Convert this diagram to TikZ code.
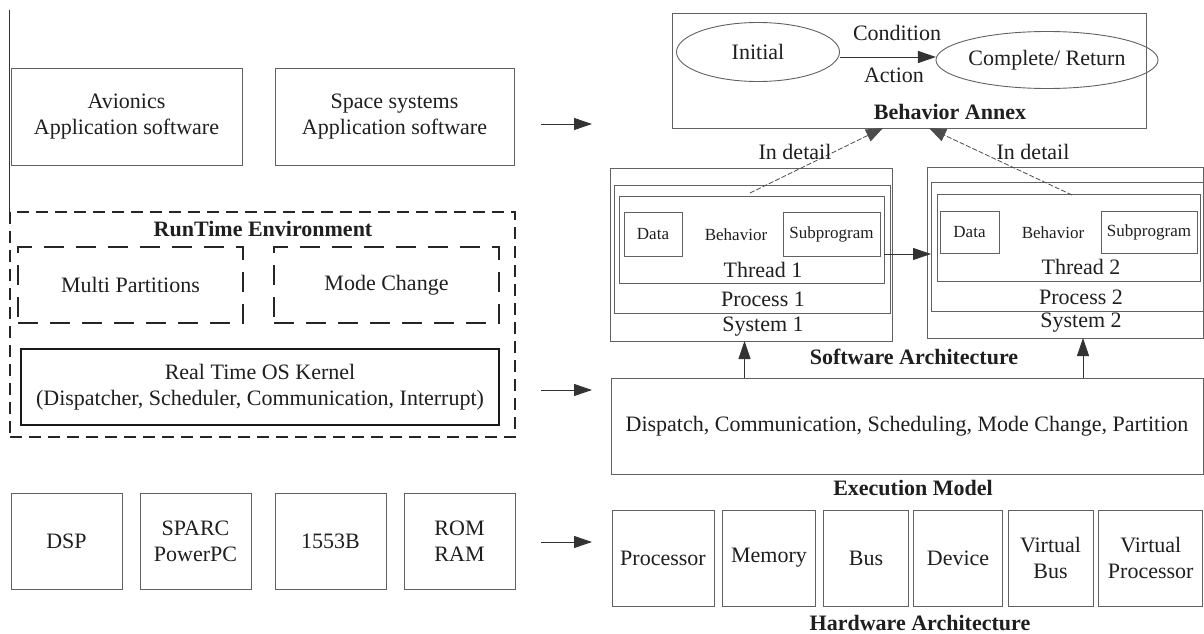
\documentclass[tikz,border=0pt]{standalone}
\usepackage{fontspec}
\setmainfont{Liberation Serif}
\usetikzlibrary{arrows.meta,shapes.geometric,calc}
\begin{document}
\begin{tikzpicture}[x=1pt,y=-1pt,
  every node/.style={inner sep=0pt, outer sep=0pt, align=center, text=black!88},
  box/.style={draw=black!62, line width=0.9pt, rectangle},
  bigtxt/.style={font=\fontsize{22}{26}\selectfont},
  smalltxt/.style={font=\fontsize{17}{20}\selectfont},
  ttl/.style={font=\fontsize{22}{26}\selectfont\bfseries},
  arr/.style={-{Triangle[length=18pt,width=12pt]}, line width=0.9pt, draw=black!80},
  darr/.style={-{Triangle[length=17pt,width=13pt]}, line width=0.8pt, draw=black!70, dash pattern=on 5pt off 2pt},
  ell/.style={ellipse, draw=black!62, line width=0.9pt}
]
\useasboundingbox (0,0) rectangle (1204,634);
\fill[white] (0,0) rectangle (1204,634);

% ---------------- left column ----------------
\coordinate (lt) at (9,10);
\coordinate (lb) at (9,212);
\draw[black!80, line width=0.9pt] (lt) -- (lb);

\node[box,bigtxt,minimum width=231pt,minimum height=97pt] (avi) at (126.5,116.5) {Avionics\\Application software};
\node[box,bigtxt,minimum width=239pt,minimum height=97pt] (spc) at (394.5,116.5) {Space systems\\Application software};

\node[draw=black!85, line width=2pt, dash pattern=on 12pt off 7pt, minimum width=505pt, minimum height=225pt] (rte) at (262.5,324.5) {};
\node[ttl] (rtet) at (263,229) {RunTime Environment};
\node[draw=black!85, line width=1.6pt, dash pattern=on 20pt off 12pt, bigtxt, minimum width=225pt, minimum height=76pt] (multi) at (130.5,285) {Multi Partitions};
\node[draw=black!85, line width=1.6pt, dash pattern=on 20pt off 12pt, bigtxt, minimum width=225pt, minimum height=76pt] (mode) at (386.5,285) {Mode Change};
\node[draw=black!90, line width=2pt, bigtxt, minimum width=478pt, minimum height=76pt] (rtos) at (260,387) {Real Time OS Kernel\\(Dispatcher, Scheduler, Communication, Interrupt)};

\node[box,bigtxt,minimum width=111pt,minimum height=96pt] (dsp) at (66.5,541) {DSP};
\node[box,bigtxt,minimum width=111pt,minimum height=96pt] (sparc) at (195.5,541) {SPARC\\PowerPC};
\node[box,bigtxt,minimum width=111pt,minimum height=96pt] (mil) at (330.5,541) {1553B};
\node[box,bigtxt,minimum width=111pt,minimum height=96pt] (rom) at (459.5,541) {ROM\\RAM};

\coordinate (a1s) at (541,124); \coordinate (a1e) at (592,124);
\coordinate (a2s) at (541,390); \coordinate (a2e) at (592,390);
\coordinate (a3s) at (541,542); \coordinate (a3e) at (592,542);
\draw[arr] (a1s) -- (a1e);
\draw[arr] (a2s) -- (a2e);
\draw[arr] (a3s) -- (a3e);

% ---------------- behavior annex ----------------
\node[box,minimum width=474pt,minimum height=115pt] (annex) at (909,70.5) {};
\node[ell,bigtxt,minimum width=163pt,minimum height=59pt] (init) at (758,52) {Initial};
\node[ell,bigtxt,minimum width=189pt,minimum height=57pt] (compl) at (1047,60) {Complete/ Return};
\coordinate (ay) at (0,57);
\draw[arr] (init.east |- ay) -- (compl.west |- ay);
\node[bigtxt] (cond) at (897,33) {Condition};
\node[bigtxt] (act) at (894,75) {Action};
\node[ttl] (annext) at (950,112) {Behavior Annex};

% ---------------- software architecture ----------------
\node[box,minimum width=282pt,minimum height=173pt] (sys1) at (751,254.5) {};
\node[box,minimum width=276pt,minimum height=128pt] (proc1) at (752,249) {};
\node[box,minimum width=265pt,minimum height=87pt] (thr1) at (751.5,239.5) {};
\node[box,smalltxt,minimum width=58pt,minimum height=44pt] (data1) at (653,234) {Data};
\node[smalltxt] (beh1) at (736,235) {Behavior};
\node[box,smalltxt,minimum width=97pt,minimum height=44pt] (sub1) at (831.5,234) {Subprogram};
\node[bigtxt] (thr1t) at (763,270) {Thread 1};
\node[bigtxt] (proc1t) at (763,299) {Process 1};
\node[bigtxt] (sys1t) at (763,327) {System 1};

\node[box,minimum width=276pt,minimum height=171pt] (sys2) at (1065,252.5) {};
\node[box,minimum width=272pt,minimum height=129pt] (proc2) at (1067,246.5) {};
\node[box,minimum width=263pt,minimum height=87pt] (thr2) at (1068.5,237.5) {};
\node[box,smalltxt,minimum width=59pt,minimum height=42pt] (data2) at (969.5,232) {Data};
\node[smalltxt] (beh2) at (1053,233) {Behavior};
\node[box,smalltxt,minimum width=96pt,minimum height=42pt] (sub2) at (1149,232) {Subprogram};
\node[bigtxt] (thr2t) at (1081,267) {Thread 2};
\node[bigtxt] (proc2t) at (1081,297) {Process 2};
\node[bigtxt] (sys2t) at (1081,323) {System 2};

\coordinate (ty) at (0,254);
\draw[arr] (thr1.east |- ty) -- (proc2.west |- ty);

\node[ttl] (swt) at (914,357) {Software Architecture};

% in detail
\coordinate (d1s) at (750,193);
\coordinate (d1e) at (883,128);
\coordinate (d2s) at (1072,195);
\coordinate (d2e) at (929,128);
\draw[darr] (d1s) -- (d1e);
\draw[darr] (d2s) -- (d2e);
\node[bigtxt] (det1) at (795,152) {In detail};
\node[bigtxt] (det2) at (1033,152) {In detail};

% ---------------- execution model ----------------
\node[box,bigtxt,minimum width=592pt,minimum height=96pt] (exec) at (907,426) {Dispatch, Communication, Scheduling, Mode Change, Partition};
\node[ttl] (exect) at (913,488) {Execution Model};

\coordinate (u1) at (744.5,0);
\coordinate (u2) at (1083,0);
\draw[arr] (exec.north -| u1) -- (sys1.south -| u1);
\draw[arr] (exec.north -| u2) -- (sys2.south -| u2);

% ---------------- hardware ----------------
\node[box,bigtxt,minimum width=102pt,minimum height=96pt] (hp) at (663,558) {Processor};
\node[box,bigtxt,minimum width=93pt,minimum height=96pt] (hm) at (769,558) {Memory};
\node[box,bigtxt,minimum width=85pt,minimum height=96pt] (hb) at (866,558) {Bus};
\node[box,bigtxt,minimum width=89pt,minimum height=96pt] (hd) at (958,558) {Device};
\node[box,bigtxt,minimum width=85pt,minimum height=96pt] (hvb) at (1050.5,558) {Virtual\\Bus};
\node[box,bigtxt,minimum width=104pt,minimum height=96pt] (hvp) at (1150.75,558) {Virtual\\Processor};
\node[ttl] (hwt) at (920,623) {Hardware Architecture};
\end{tikzpicture}
\end{document}
